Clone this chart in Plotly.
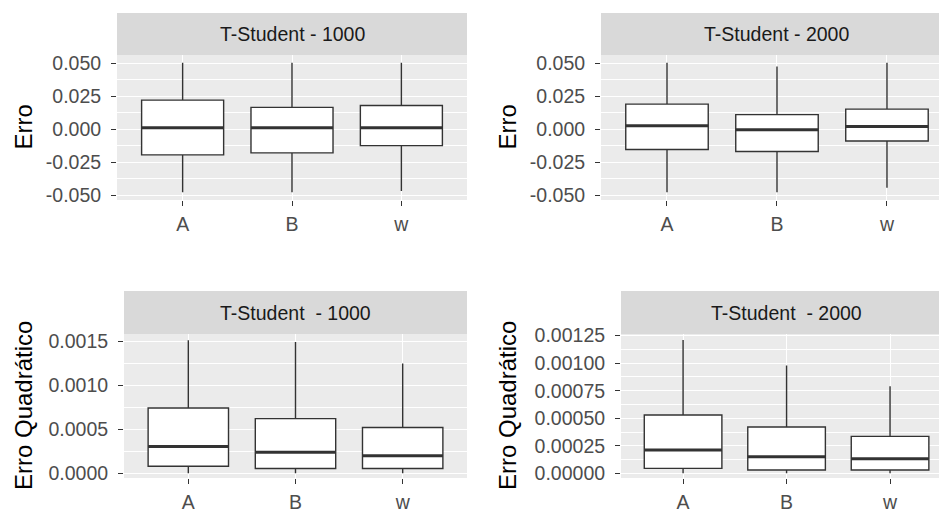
import plotly.graph_objects as go

# ---------------- data ----------------
categories = ["A", "B", "w"]
positions = [1, 2, 3]

panel_titles = ["T-Student - 1000", "T-Student - 2000",
                "T-Student  - 1000", "T-Student  - 2000"]
y_titles = ["Erro", "Erro", "Erro Quadrático", "Erro Quadrático"]

# panel 1: Erro, n=1000
p1_lower = [-0.048, -0.048, -0.047]
p1_q1 = [-0.0195, -0.018, -0.0125]
p1_median = [0.001, 0.001, 0.001]
p1_q3 = [0.022, 0.0165, 0.018]
p1_upper = [0.0505, 0.0505, 0.0505]

# panel 2: Erro, n=2000
p2_lower = [-0.048, -0.048, -0.0445]
p2_q1 = [-0.0155, -0.017, -0.009]
p2_median = [0.0025, -0.0005, 0.002]
p2_q3 = [0.019, 0.011, 0.0152]
p2_upper = [0.0505, 0.0475, 0.0505]

# panel 3: Erro Quadrático, n=1000
p3_lower = [0.0, 0.0, 0.0]
p3_q1 = [0.00008, 0.000055, 0.000055]
p3_median = [0.000305, 0.00024, 0.0002]
p3_q3 = [0.00074, 0.00062, 0.00052]
p3_upper = [0.00151, 0.00149, 0.001245]

# panel 4: Erro Quadrático, n=2000
p4_lower = [0.0, 0.0, 0.0]
p4_q1 = [0.000045, 0.00003, 0.00003]
p4_median = [0.000212, 0.00015, 0.000133]
p4_q3 = [0.00053, 0.00042, 0.000335]
p4_upper = [0.00121, 0.00098, 0.00079]

err_ticks = [-0.05, -0.025, 0.0, 0.025, 0.05]
err_ticktext = ["-0.050", "-0.025", "0.000", "0.025", "0.050"]
err_minor = [-0.0375, -0.0125, 0.0125, 0.0375]

sq1_ticks = [0.0, 0.0005, 0.0010, 0.0015]
sq1_ticktext = ["0.0000", "0.0005", "0.0010", "0.0015"]
sq1_minor = [0.00025, 0.00075, 0.00125]

sq2_ticks = [0.0, 0.00025, 0.0005, 0.00075, 0.0010, 0.00125]
sq2_ticktext = ["0.00000", "0.00025", "0.00050", "0.00075", "0.00100", "0.00125"]
sq2_minor = [0.000125, 0.000375, 0.000625, 0.000875, 0.001125]

# ---------------- layout geometry (pixels) ----------------
W, H = 939, 510
FONT = "Liberation Sans, Arial, sans-serif"
BOX_W = 0.75

panels = [
    dict(stats=(p1_lower, p1_q1, p1_median, p1_q3, p1_upper),
         x=(117, 467), y=(55, 200), strip=(13, 55), xr=[0.4, 3.6],
         yr=[-0.0538, 0.0563], ticks=err_ticks, ticktext=err_ticktext,
         minor=err_minor, title_x=23),
    dict(stats=(p2_lower, p2_q1, p2_median, p2_q3, p2_upper),
         x=(601, 939), y=(55, 200), strip=(13, 55), xr=[0.4, 3.473],
         yr=[-0.0538, 0.0563], ticks=err_ticks, ticktext=err_ticktext,
         minor=err_minor, title_x=507),
    dict(stats=(p3_lower, p3_q1, p3_median, p3_q3, p3_upper),
         x=(124, 467), y=(334, 478), strip=(291, 334), xr=[0.4, 3.6],
         yr=[-0.000053, 0.00158], ticks=sq1_ticks, ticktext=sq1_ticktext,
         minor=sq1_minor, title_x=23),
    dict(stats=(p4_lower, p4_q1, p4_median, p4_q3, p4_upper),
         x=(621, 939), y=(334, 478), strip=(291, 334), xr=[0.4, 3.473],
         yr=[-0.0000427, 0.001265], ticks=sq2_ticks, ticktext=sq2_ticktext,
         minor=sq2_minor, title_x=507),
]

fig = go.Figure()
layout = dict(width=W, height=H, margin=dict(l=0, r=0, t=0, b=0, pad=0),
              paper_bgcolor="white", plot_bgcolor="#EBEBEB",
              showlegend=False, font=dict(family=FONT),
              shapes=[], annotations=[])

for i, p in enumerate(panels):
    n = "" if i == 0 else str(i + 1)
    xa, ya = "x" + n, "y" + n
    lo, q1, med, q3, hi = p["stats"]
    fig.add_trace(go.Box(
        x=positions, q1=q1, median=med, q3=q3, lowerfence=lo, upperfence=hi,
        width=BOX_W, whiskerwidth=0, fillcolor="white", boxpoints=False,
        line=dict(color="#333333", width=1.4), xaxis=xa, yaxis=ya,
        hoverinfo="skip"))
    # thicker median line (ggplot style)
    mx, my = [], []
    for xp, m in zip(positions, med):
        mx += [xp - BOX_W / 2, xp + BOX_W / 2, None]
        my += [m, m, None]
    fig.add_trace(go.Scatter(x=mx, y=my, mode="lines",
                             line=dict(color="#333333", width=3),
                             xaxis=xa, yaxis=ya, hoverinfo="skip"))
    x0, x1 = p["x"]
    y0, y1 = p["y"]
    layout["xaxis" + n] = dict(
        domain=[x0 / W, x1 / W], range=p["xr"], anchor=ya, automargin=False,
        tickmode="array", tickvals=positions, ticktext=categories,
        showgrid=True, gridcolor="white", gridwidth=1.4, zeroline=False,
        showline=False, ticks="outside", ticklen=5, tickwidth=1.2,
        tickcolor="#333333", ticklabelstandoff=2,
        tickfont=dict(size=19.5, color="#4D4D4D", family=FONT))
    layout["yaxis" + n] = dict(
        domain=[1 - y1 / H, 1 - y0 / H], range=p["yr"], anchor=xa,
        automargin=False,
        tickmode="array", tickvals=p["ticks"], ticktext=p["ticktext"],
        showgrid=True, gridcolor="white", gridwidth=1.4, zeroline=False,
        showline=False, ticks="outside", ticklen=5, tickwidth=1.2,
        tickcolor="#333333", ticklabelstandoff=6,
        minor=dict(tickmode="array", tickvals=p["minor"], showgrid=True,
                   gridcolor="white", gridwidth=0.7, ticklen=0),
        tickfont=dict(size=19.5, color="#4D4D4D", family=FONT))
    s0, s1 = p["strip"]
    layout["shapes"].append(dict(
        type="rect", xref="paper", yref="paper", x0=x0 / W, x1=x1 / W,
        y0=1 - s1 / H, y1=1 - s0 / H, fillcolor="#D9D9D9",
        line=dict(width=0), layer="below"))
    full_right = x0 + (x1 - x0) * (3.6 - 0.4) / (p["xr"][1] - p["xr"][0])
    layout["annotations"].append(dict(
        text=panel_titles[i], xref="paper", yref="paper",
        x=(x0 + full_right) / 2 / W, y=1 - (s0 + s1) / 2 / H,
        showarrow=False, xanchor="center", yanchor="middle",
        font=dict(size=19.5, color="#1A1A1A", family=FONT)))
    layout["annotations"].append(dict(
        text=y_titles[i], xref="paper", yref="paper",
        x=p["title_x"] / W, y=1 - (y0 + y1) / 2 / H, textangle=-90,
        showarrow=False, xanchor="center", yanchor="middle",
        font=dict(size=24, color="black", family=FONT)))

fig.update_layout(**layout)
fig.write_html("out.html",
               config={"displayModeBar": False},
               post_script="document.body.style.margin='0px';"
                           "document.body.style.overflow='hidden';")
